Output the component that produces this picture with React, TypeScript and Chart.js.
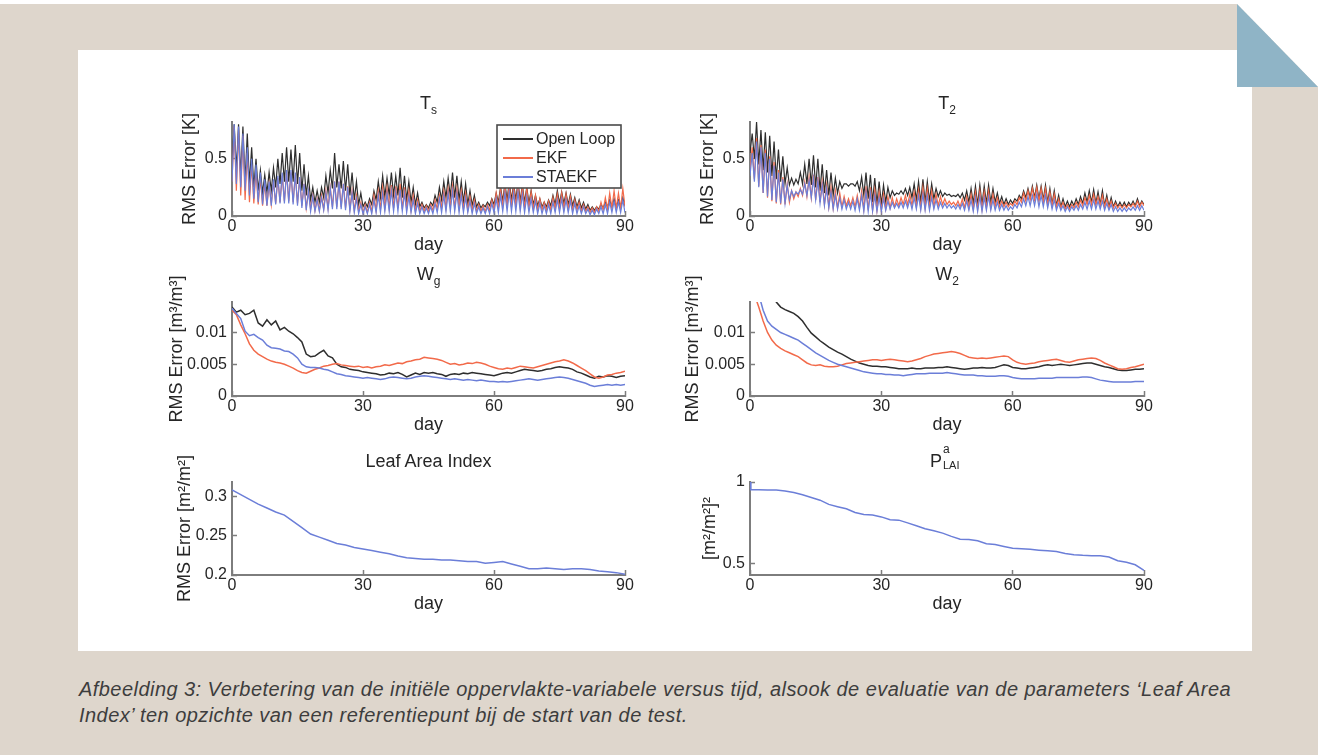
import React, { useEffect, useRef } from "react";
import { Chart, registerables } from "chart.js";

Chart.register(...registerables);

// ---------------- data ----------------
const seriesNames = ["Open Loop", "EKF", "STAEKF"];
const dayTicks = [0, 30, 60, 90];

const tsYTicks = [0, 0.5];
const wYTicks = [0, 0.005, 0.01];
const laiYTicks = [0.2, 0.25, 0.3];
const pYTicks = [0.5, 1];

// T_s: daily peak (midday) and trough values per series
const tsOlPeak = [
  0.80, 0.80, 0.78, 0.72, 0.60, 0.50, 0.40, 0.36, 0.38, 0.42,
  0.50, 0.55, 0.60, 0.58, 0.62, 0.55, 0.45, 0.35, 0.25, 0.22,
  0.25, 0.35, 0.40, 0.55, 0.45, 0.48, 0.45, 0.38, 0.30, 0.20,
  0.12, 0.15, 0.22, 0.30, 0.35, 0.33, 0.38, 0.35, 0.42, 0.35,
  0.30, 0.25, 0.20, 0.12, 0.10, 0.12, 0.18, 0.25, 0.30, 0.33,
  0.38, 0.35, 0.30, 0.28, 0.22, 0.18, 0.12, 0.10, 0.12, 0.15,
  0.20, 0.25, 0.28, 0.30, 0.28, 0.30, 0.27, 0.25, 0.22, 0.18,
  0.15, 0.12, 0.14, 0.18, 0.22, 0.21, 0.20, 0.19, 0.16, 0.14,
  0.12, 0.10, 0.08, 0.08, 0.10, 0.12, 0.14, 0.15, 0.14, 0.16,
];
const tsOlTrough = [
  0.45, 0.40, 0.35, 0.30, 0.28, 0.25, 0.22, 0.20, 0.20, 0.22,
  0.25, 0.28, 0.30, 0.30, 0.30, 0.28, 0.22, 0.18, 0.14, 0.12,
  0.12, 0.16, 0.20, 0.24, 0.25, 0.24, 0.22, 0.18, 0.14, 0.10,
  0.08, 0.08, 0.10, 0.14, 0.16, 0.17, 0.18, 0.18, 0.18, 0.16,
  0.14, 0.12, 0.10, 0.08, 0.07, 0.07, 0.09, 0.12, 0.14, 0.16,
  0.17, 0.16, 0.14, 0.12, 0.10, 0.09, 0.08, 0.07, 0.08, 0.09,
  0.10, 0.12, 0.13, 0.14, 0.14, 0.14, 0.13, 0.12, 0.11, 0.10,
  0.09, 0.08, 0.08, 0.09, 0.10, 0.11, 0.11, 0.10, 0.09, 0.08,
  0.07, 0.06, 0.05, 0.05, 0.06, 0.07, 0.08, 0.08, 0.08, 0.08,
  0.09,
];
const tsEkfPeak = [
  0.78, 0.75, 0.70, 0.55, 0.45, 0.40, 0.33, 0.28, 0.28, 0.30,
  0.33, 0.35, 0.38, 0.38, 0.36, 0.33, 0.28, 0.22, 0.18, 0.15,
  0.18, 0.22, 0.25, 0.30, 0.30, 0.28, 0.26, 0.22, 0.18, 0.12,
  0.10, 0.12, 0.18, 0.22, 0.25, 0.25, 0.27, 0.26, 0.28, 0.25,
  0.22, 0.18, 0.14, 0.10, 0.09, 0.10, 0.14, 0.18, 0.22, 0.24,
  0.26, 0.24, 0.22, 0.20, 0.17, 0.14, 0.10, 0.09, 0.10, 0.14,
  0.20, 0.24, 0.27, 0.28, 0.27, 0.28, 0.26, 0.24, 0.21, 0.18,
  0.15, 0.12, 0.13, 0.16, 0.19, 0.20, 0.19, 0.17, 0.14, 0.12,
  0.10, 0.08, 0.07, 0.08, 0.12, 0.16, 0.20, 0.22, 0.20, 0.24,
];
const tsEkfTrough = [
  0.30, 0.22, 0.18, 0.14, 0.12, 0.11, 0.10, 0.09, 0.09, 0.10,
  0.11, 0.12, 0.13, 0.13, 0.12, 0.11, 0.09, 0.07, 0.06, 0.05,
  0.05, 0.06, 0.07, 0.08, 0.08, 0.08, 0.07, 0.06, 0.05, 0.04,
  0.03, 0.03, 0.04, 0.05, 0.06, 0.07, 0.07, 0.07, 0.07, 0.06,
  0.06, 0.05, 0.04, 0.04, 0.04, 0.04, 0.05, 0.06, 0.07, 0.07,
  0.08, 0.07, 0.07, 0.06, 0.05, 0.05, 0.04, 0.04, 0.04, 0.05,
  0.06, 0.07, 0.08, 0.08, 0.08, 0.08, 0.08, 0.07, 0.07, 0.06,
  0.05, 0.05, 0.05, 0.05, 0.06, 0.06, 0.06, 0.06, 0.05, 0.05,
  0.04, 0.04, 0.03, 0.03, 0.04, 0.05, 0.06, 0.07, 0.07, 0.07,
  0.08,
];
const tsStaPeak = [
  0.80, 0.78, 0.72, 0.60, 0.50, 0.45, 0.38, 0.32, 0.30, 0.32,
  0.35, 0.38, 0.40, 0.40, 0.38, 0.34, 0.28, 0.22, 0.17, 0.14,
  0.16, 0.20, 0.24, 0.30, 0.30, 0.28, 0.25, 0.20, 0.15, 0.10,
  0.08, 0.10, 0.14, 0.18, 0.20, 0.20, 0.22, 0.21, 0.23, 0.20,
  0.17, 0.14, 0.11, 0.08, 0.07, 0.08, 0.11, 0.15, 0.18, 0.20,
  0.22, 0.20, 0.18, 0.16, 0.13, 0.11, 0.08, 0.07, 0.08, 0.11,
  0.15, 0.18, 0.20, 0.21, 0.20, 0.21, 0.19, 0.17, 0.15, 0.13,
  0.11, 0.09, 0.10, 0.12, 0.14, 0.15, 0.14, 0.13, 0.11, 0.09,
  0.08, 0.06, 0.05, 0.06, 0.08, 0.10, 0.12, 0.13, 0.12, 0.14,
];
const tsStaTrough = [
  0.30, 0.28, 0.25, 0.22, 0.18, 0.15, 0.12, 0.10, 0.09, 0.09,
  0.10, 0.11, 0.11, 0.11, 0.10, 0.09, 0.07, 0.05, 0.04, 0.04,
  0.04, 0.05, 0.05, 0.06, 0.06, 0.06, 0.05, 0.04, 0.03, 0.02,
  0.02, 0.02, 0.02, 0.03, 0.03, 0.04, 0.04, 0.04, 0.04, 0.04,
  0.03, 0.03, 0.02, 0.02, 0.02, 0.02, 0.02, 0.03, 0.03, 0.04,
  0.04, 0.04, 0.03, 0.03, 0.03, 0.02, 0.02, 0.02, 0.02, 0.02,
  0.03, 0.03, 0.04, 0.04, 0.04, 0.04, 0.04, 0.03, 0.03, 0.03,
  0.02, 0.02, 0.02, 0.02, 0.03, 0.03, 0.03, 0.03, 0.02, 0.02,
  0.02, 0.02, 0.01, 0.01, 0.02, 0.02, 0.02, 0.03, 0.03, 0.03,
  0.03,
];

// T_2
const t2OlPeak = [
  0.72, 0.82, 0.75, 0.73, 0.70, 0.65, 0.58, 0.52, 0.42, 0.33,
  0.32, 0.38, 0.45, 0.50, 0.53, 0.50, 0.45, 0.40, 0.38, 0.33,
  0.30, 0.28, 0.26, 0.28, 0.30, 0.34, 0.38, 0.36, 0.33, 0.30,
  0.27, 0.25, 0.22, 0.20, 0.22, 0.24, 0.25, 0.28, 0.30, 0.32,
  0.30, 0.28, 0.24, 0.22, 0.20, 0.19, 0.18, 0.19, 0.20, 0.22,
  0.24, 0.26, 0.27, 0.26, 0.27, 0.24, 0.20, 0.17, 0.15, 0.14,
  0.15, 0.18, 0.22, 0.24, 0.26, 0.27, 0.26, 0.27, 0.24, 0.22,
  0.18, 0.15, 0.13, 0.13, 0.15, 0.17, 0.20, 0.22, 0.23, 0.21,
  0.22, 0.18, 0.16, 0.13, 0.12, 0.12, 0.12, 0.13, 0.15, 0.13,
];
const t2OlTrough = [
  0.55, 0.50, 0.45, 0.40, 0.38, 0.35, 0.32, 0.30, 0.28, 0.27,
  0.27, 0.28, 0.28, 0.28, 0.27, 0.25, 0.22, 0.20, 0.18, 0.18,
  0.20, 0.24, 0.28, 0.28, 0.26, 0.22, 0.18, 0.15, 0.12, 0.10,
  0.10, 0.12, 0.16, 0.18, 0.19, 0.19, 0.18, 0.16, 0.14, 0.12,
  0.12, 0.13, 0.15, 0.17, 0.17, 0.18, 0.17, 0.17, 0.16, 0.14,
  0.12, 0.11, 0.10, 0.10, 0.11, 0.12, 0.12, 0.11, 0.10, 0.10,
  0.11, 0.13, 0.15, 0.16, 0.16, 0.16, 0.15, 0.14, 0.12, 0.10,
  0.09, 0.08, 0.08, 0.08, 0.09, 0.10, 0.11, 0.12, 0.12, 0.11,
  0.10, 0.09, 0.08, 0.08, 0.08, 0.08, 0.08, 0.09, 0.09, 0.09,
  0.10,
];
const t2EkfPeak = [
  0.60, 0.68, 0.62, 0.58, 0.52, 0.47, 0.40, 0.34, 0.28, 0.22,
  0.21, 0.24, 0.30, 0.34, 0.36, 0.34, 0.30, 0.27, 0.25, 0.22,
  0.20, 0.17, 0.15, 0.16, 0.18, 0.22, 0.26, 0.25, 0.23, 0.21,
  0.19, 0.17, 0.16, 0.15, 0.16, 0.18, 0.19, 0.21, 0.23, 0.25,
  0.24, 0.22, 0.19, 0.17, 0.15, 0.13, 0.12, 0.13, 0.15, 0.17,
  0.19, 0.21, 0.22, 0.21, 0.22, 0.19, 0.16, 0.13, 0.12, 0.11,
  0.13, 0.16, 0.20, 0.22, 0.24, 0.25, 0.24, 0.24, 0.21, 0.19,
  0.15, 0.12, 0.10, 0.10, 0.12, 0.14, 0.16, 0.18, 0.19, 0.17,
  0.18, 0.15, 0.13, 0.11, 0.10, 0.10, 0.10, 0.11, 0.13, 0.12,
];
const t2EkfTrough = [
  0.40, 0.32, 0.26, 0.20, 0.16, 0.13, 0.11, 0.10, 0.10, 0.12,
  0.15, 0.17, 0.18, 0.17, 0.16, 0.14, 0.12, 0.10, 0.08, 0.07,
  0.07, 0.08, 0.09, 0.09, 0.08, 0.07, 0.06, 0.05, 0.05, 0.05,
  0.05, 0.06, 0.07, 0.08, 0.09, 0.10, 0.10, 0.09, 0.08, 0.07,
  0.07, 0.07, 0.08, 0.09, 0.10, 0.10, 0.10, 0.09, 0.08, 0.07,
  0.07, 0.06, 0.06, 0.06, 0.07, 0.07, 0.08, 0.08, 0.08, 0.08,
  0.09, 0.10, 0.12, 0.13, 0.14, 0.14, 0.13, 0.12, 0.10, 0.09,
  0.08, 0.07, 0.06, 0.06, 0.07, 0.08, 0.09, 0.10, 0.10, 0.10,
  0.09, 0.08, 0.07, 0.07, 0.07, 0.07, 0.07, 0.08, 0.08, 0.08,
  0.09,
];
const t2StaPeak = [
  0.55, 0.65, 0.60, 0.55, 0.50, 0.44, 0.38, 0.32, 0.27, 0.22,
  0.21, 0.23, 0.28, 0.31, 0.33, 0.31, 0.27, 0.24, 0.21, 0.18,
  0.16, 0.14, 0.12, 0.13, 0.15, 0.18, 0.21, 0.20, 0.18, 0.16,
  0.15, 0.13, 0.12, 0.11, 0.12, 0.13, 0.14, 0.16, 0.18, 0.19,
  0.18, 0.16, 0.14, 0.12, 0.11, 0.10, 0.09, 0.10, 0.11, 0.13,
  0.14, 0.16, 0.17, 0.16, 0.17, 0.14, 0.12, 0.10, 0.09, 0.08,
  0.10, 0.12, 0.15, 0.17, 0.18, 0.19, 0.18, 0.18, 0.16, 0.14,
  0.11, 0.09, 0.08, 0.08, 0.09, 0.10, 0.12, 0.13, 0.14, 0.13,
  0.13, 0.11, 0.10, 0.08, 0.07, 0.07, 0.07, 0.08, 0.09, 0.09,
];
const t2StaTrough = [
  0.35, 0.30, 0.25, 0.20, 0.17, 0.14, 0.12, 0.11, 0.11, 0.14,
  0.17, 0.19, 0.19, 0.18, 0.16, 0.14, 0.11, 0.09, 0.07, 0.06,
  0.06, 0.06, 0.06, 0.06, 0.05, 0.05, 0.04, 0.04, 0.04, 0.04,
  0.04, 0.05, 0.06, 0.07, 0.07, 0.07, 0.07, 0.06, 0.06, 0.05,
  0.05, 0.05, 0.06, 0.06, 0.07, 0.07, 0.07, 0.06, 0.06, 0.05,
  0.05, 0.04, 0.04, 0.04, 0.05, 0.05, 0.05, 0.05, 0.05, 0.05,
  0.06, 0.07, 0.08, 0.09, 0.09, 0.09, 0.08, 0.08, 0.07, 0.06,
  0.05, 0.05, 0.04, 0.04, 0.05, 0.05, 0.06, 0.06, 0.06, 0.06,
  0.06, 0.05, 0.05, 0.04, 0.04, 0.04, 0.04, 0.05, 0.05, 0.05,
  0.05,
];

// W_g (daily, day 0..90)
const wgOl = [
  0.0140, 0.0132, 0.0135, 0.0128, 0.0130, 0.0135, 0.0115, 0.0110, 0.0120, 0.0112,
  0.0118, 0.0104, 0.0108, 0.0102, 0.0098, 0.0092, 0.0085, 0.0066, 0.0062, 0.0063,
  0.0068, 0.0072, 0.0063, 0.0060, 0.0050, 0.0046, 0.0045, 0.0042, 0.0041, 0.0040,
  0.0038, 0.0037, 0.0036, 0.0035, 0.0033, 0.0034, 0.0036, 0.0035, 0.0037, 0.0034,
  0.0030, 0.0033, 0.0036, 0.0034, 0.0037, 0.0036, 0.0037, 0.0035, 0.0034, 0.0031,
  0.0034, 0.0035, 0.0034, 0.0036, 0.0035, 0.0037, 0.0036, 0.0035, 0.0034, 0.0033,
  0.0032, 0.0034, 0.0036, 0.0037, 0.0036, 0.0038, 0.0040, 0.0042, 0.0041, 0.0040,
  0.0039, 0.0040, 0.0042, 0.0043, 0.0045, 0.0046, 0.0045, 0.0044, 0.0042, 0.0038,
  0.0036, 0.0033, 0.0030, 0.0028, 0.0031, 0.0030, 0.0032, 0.0031, 0.0029, 0.0031,
  0.0032,
];
const wgEkf = [
  0.0135, 0.0128, 0.0112, 0.0098, 0.0082, 0.0072, 0.0066, 0.0062, 0.0058, 0.0055,
  0.0053, 0.0052, 0.0050, 0.0047, 0.0044, 0.0040, 0.0037, 0.0036, 0.0039, 0.0042,
  0.0044, 0.0047, 0.0048, 0.0050, 0.0051, 0.0049, 0.0048, 0.0047, 0.0046, 0.0047,
  0.0045, 0.0046, 0.0044, 0.0046, 0.0047, 0.0049, 0.0048, 0.0050, 0.0052, 0.0051,
  0.0054, 0.0055, 0.0057, 0.0058, 0.0061, 0.0060, 0.0059, 0.0058, 0.0056, 0.0053,
  0.0050, 0.0051, 0.0049, 0.0050, 0.0052, 0.0051, 0.0053, 0.0052, 0.0050, 0.0047,
  0.0045, 0.0043, 0.0042, 0.0044, 0.0043, 0.0045, 0.0047, 0.0046, 0.0045, 0.0044,
  0.0046, 0.0048, 0.0050, 0.0052, 0.0054, 0.0055, 0.0057, 0.0055, 0.0052, 0.0048,
  0.0044, 0.0040, 0.0035, 0.0030, 0.0028, 0.0030, 0.0033, 0.0034, 0.0036, 0.0037,
  0.0039,
];
const wgSta = [
  0.0138, 0.0130, 0.0122, 0.0102, 0.0095, 0.0097, 0.0092, 0.0088, 0.0080, 0.0076,
  0.0075, 0.0074, 0.0071, 0.0070, 0.0066, 0.0060, 0.0050, 0.0046, 0.0045, 0.0045,
  0.0044, 0.0042, 0.0041, 0.0038, 0.0035, 0.0034, 0.0032, 0.0031, 0.0030, 0.0029,
  0.0028, 0.0029, 0.0028, 0.0027, 0.0026, 0.0027, 0.0029, 0.0030, 0.0029, 0.0028,
  0.0027, 0.0028, 0.0030, 0.0031, 0.0032, 0.0031, 0.0030, 0.0029, 0.0028, 0.0027,
  0.0026, 0.0027, 0.0026, 0.0025, 0.0026, 0.0025, 0.0024, 0.0025, 0.0024, 0.0023,
  0.0023, 0.0022, 0.0023, 0.0022, 0.0023, 0.0024, 0.0025, 0.0026, 0.0027, 0.0026,
  0.0025, 0.0026, 0.0027, 0.0028, 0.0029, 0.0030, 0.0029, 0.0028, 0.0026, 0.0024,
  0.0022, 0.0020, 0.0017, 0.0015, 0.0016, 0.0017, 0.0018, 0.0017, 0.0018, 0.0017,
  0.0018,
];

// W_2 (daily, day 0..90)
const w2Ol = [
  0.0300, 0.0270, 0.0240, 0.0210, 0.0190, 0.0165, 0.0148, 0.0140, 0.0136, 0.0133,
  0.0130, 0.0125, 0.0118, 0.0108, 0.0099, 0.0093, 0.0087, 0.0082, 0.0077, 0.0073,
  0.0069, 0.0066, 0.0062, 0.0058, 0.0055, 0.0052, 0.0050, 0.0048, 0.0047, 0.0047,
  0.0046, 0.0046, 0.0045, 0.0044, 0.0043, 0.0043, 0.0043, 0.0044, 0.0043, 0.0043,
  0.0044, 0.0044, 0.0044, 0.0045, 0.0045, 0.0046, 0.0045, 0.0044, 0.0043, 0.0042,
  0.0043, 0.0044, 0.0044, 0.0045, 0.0044, 0.0044, 0.0045, 0.0047, 0.0049, 0.0048,
  0.0045, 0.0044, 0.0043, 0.0043, 0.0044, 0.0045, 0.0046, 0.0048, 0.0049, 0.0048,
  0.0049, 0.0050, 0.0049, 0.0048, 0.0049, 0.0050, 0.0051, 0.0052, 0.0052, 0.0050,
  0.0048, 0.0046, 0.0045, 0.0043, 0.0041, 0.0040, 0.0040, 0.0041, 0.0042, 0.0042,
  0.0043,
];
const w2Ekf = [
  0.0200, 0.0160, 0.0140, 0.0118, 0.0100, 0.0088, 0.0080, 0.0075, 0.0071, 0.0068,
  0.0065, 0.0062, 0.0057, 0.0052, 0.0049, 0.0048, 0.0049, 0.0047, 0.0046, 0.0046,
  0.0047, 0.0049, 0.0051, 0.0052, 0.0053, 0.0054, 0.0055, 0.0056, 0.0057, 0.0057,
  0.0056, 0.0057, 0.0058, 0.0057, 0.0056, 0.0055, 0.0054, 0.0055, 0.0057, 0.0059,
  0.0062, 0.0064, 0.0066, 0.0067, 0.0068, 0.0069, 0.0070, 0.0069, 0.0067, 0.0064,
  0.0061, 0.0060, 0.0059, 0.0060, 0.0059, 0.0060, 0.0061, 0.0062, 0.0063, 0.0062,
  0.0057, 0.0053, 0.0051, 0.0050, 0.0051, 0.0052, 0.0054, 0.0055, 0.0056, 0.0057,
  0.0058, 0.0056, 0.0054, 0.0053, 0.0055, 0.0057, 0.0058, 0.0059, 0.0060, 0.0059,
  0.0056, 0.0052, 0.0049, 0.0046, 0.0043, 0.0042, 0.0043, 0.0045, 0.0046, 0.0048,
  0.0050,
];
const w2Sta = [
  0.0250, 0.0200, 0.0160, 0.0135, 0.0118, 0.0110, 0.0105, 0.0100, 0.0097, 0.0094,
  0.0091, 0.0088, 0.0083, 0.0078, 0.0073, 0.0068, 0.0064, 0.0060, 0.0056, 0.0053,
  0.0050, 0.0048, 0.0046, 0.0044, 0.0042, 0.0040, 0.0038, 0.0037, 0.0036, 0.0035,
  0.0035, 0.0034, 0.0034, 0.0033, 0.0033, 0.0032, 0.0033, 0.0034, 0.0035, 0.0035,
  0.0035, 0.0036, 0.0036, 0.0036, 0.0036, 0.0037, 0.0036, 0.0035, 0.0034, 0.0033,
  0.0033, 0.0033, 0.0032, 0.0032, 0.0031, 0.0031, 0.0031, 0.0032, 0.0032, 0.0031,
  0.0029, 0.0028, 0.0027, 0.0027, 0.0027, 0.0027, 0.0028, 0.0028, 0.0028, 0.0028,
  0.0029, 0.0029, 0.0029, 0.0029, 0.0029, 0.0029, 0.0030, 0.0030, 0.0029, 0.0027,
  0.0025, 0.0024, 0.0023, 0.0022, 0.0022, 0.0022, 0.0022, 0.0022, 0.0023, 0.0023,
  0.0023,
];

// Leaf Area Index (every 2 days)
const laiDays = [
  0, 2, 4, 6, 8, 10, 12, 14, 16, 18, 20, 22, 24, 26, 28, 30, 32, 34, 36, 38, 40, 42, 44,
  46, 48, 50, 52, 54, 56, 58, 60, 62, 64, 66, 68, 70, 72, 74, 76, 78, 80, 82, 84, 86, 88, 90,
];
const laiSta = [
  0.308, 0.302, 0.296, 0.290, 0.285, 0.280, 0.276, 0.268, 0.260, 0.252, 0.248, 0.244,
  0.240, 0.238, 0.235, 0.233, 0.231, 0.229, 0.227, 0.224, 0.222, 0.221, 0.220, 0.220,
  0.219, 0.219, 0.218, 0.217, 0.217, 0.215, 0.216, 0.217, 0.214, 0.211, 0.208, 0.208,
  0.209, 0.208, 0.207, 0.208, 0.208, 0.207, 0.205, 0.204, 0.203, 0.201,
];

// P^a_LAI
const pDays = [
  0, 0.2, 2, 4, 6, 8, 10, 12, 14, 16, 18, 20, 22, 24, 26, 28, 30, 32, 34, 36, 38, 40, 42, 44,
  46, 48, 50, 52, 54, 56, 58, 60, 62, 64, 66, 68, 70, 72, 74, 76, 78, 80, 82, 84, 86, 88, 90,
];
const pSta = [
  1.0, 0.952, 0.952, 0.951, 0.950, 0.945, 0.935, 0.922, 0.905, 0.888, 0.862, 0.848,
  0.835, 0.812, 0.800, 0.797, 0.785, 0.768, 0.765, 0.748, 0.730, 0.712, 0.700, 0.685,
  0.665, 0.648, 0.646, 0.638, 0.620, 0.615, 0.603, 0.592, 0.588, 0.585, 0.580, 0.576,
  0.572, 0.560, 0.552, 0.548, 0.546, 0.545, 0.538, 0.515, 0.505, 0.490, 0.455,
];

// ---------------- styling ----------------
const FONT = "'Liberation Sans', Arial, Helvetica, sans-serif";
const TEXT = "#262626";
const AXIS = "#7d7d7d";
const C_OL = "#2e2e2e";
const C_EKF = "#f26a4a";
const C_STA = "#6b7ed8";
const seriesColors = [C_OL, C_EKF, C_STA];

const TICK_SIZE = 16;
const LABEL_SIZE = 18;

type Pt = { x: number; y: number };

function spikes(troughs: number[], peaks: number[]): Pt[] {
  const pts: Pt[] = [];
  for (let d = 0; d < troughs.length; d++) {
    pts.push({ x: d, y: troughs[d] });
    if (d < peaks.length) pts.push({ x: d + 0.5, y: peaks[d] });
  }
  return pts;
}
function daily(v: number[]): Pt[] {
  return v.map((y, i) => ({ x: i, y }));
}
function paired(days: number[], v: number[]): Pt[] {
  return days.map((x, i) => ({ x, y: v[i] }));
}

const insetLegend = {
  id: "insetLegend",
  afterDatasetsDraw(chart: any) {
    const opts = chart.options.plugins.insetLegend;
    if (!opts || !opts.display) return;
    const { ctx, chartArea } = chart;
    const w = 124;
    const h = 63;
    const x = chartArea.right - 4 - w;
    const y = chartArea.top + 3;
    ctx.save();
    ctx.fillStyle = "#ffffff";
    ctx.fillRect(x, y, w, h);
    ctx.strokeStyle = "#4a4a4a";
    ctx.lineWidth = 1.6;
    ctx.strokeRect(x, y, w, h);
    ctx.font = `16px ${FONT}`;
    ctx.textBaseline = "middle";
    ctx.textAlign = "left";
    chart.data.datasets.forEach((ds: any, i: number) => {
      const cy = y + 14 + i * 19;
      ctx.strokeStyle = ds.borderColor;
      ctx.lineWidth = 2;
      ctx.beginPath();
      ctx.moveTo(x + 6, cy);
      ctx.lineTo(x + 36, cy);
      ctx.stroke();
      ctx.fillStyle = TEXT;
      ctx.fillText(ds.label, x + 39, cy + 1);
    });
    ctx.restore();
  },
};

type Series = { label: string; data: Pt[]; color: string };
type Spec = {
  key: string;
  L: number; T: number; R: number; B: number;
  yMin: number; yMax: number; yTicks: number[];
  yTitle: string; yOff: number;
  lw: number; legend?: boolean;
  series: Series[];
  title: React.ReactNode;
};

const sub = (t: string) => (
  <sub style={{ fontSize: 12, verticalAlign: -5, lineHeight: 0 }}>{t}</sub>
);

const specs: Spec[] = [
  {
    key: "ts", L: 232, T: 122, R: 625, B: 216, yMin: 0, yMax: 0.82, yTicks: tsYTicks,
    yTitle: "RMS Error [K]", yOff: 42, lw: 1.2, legend: true,
    series: [
      { label: seriesNames[0], data: spikes(tsOlTrough, tsOlPeak), color: seriesColors[0] },
      { label: seriesNames[1], data: spikes(tsEkfTrough, tsEkfPeak), color: seriesColors[1] },
      { label: seriesNames[2], data: spikes(tsStaTrough, tsStaPeak), color: seriesColors[2] },
    ],
    title: <>T{sub("s")}</>,
  },
  {
    key: "t2", L: 750, T: 122, R: 1144, B: 216, yMin: 0, yMax: 0.82, yTicks: tsYTicks,
    yTitle: "RMS Error [K]", yOff: 42, lw: 1.2,
    series: [
      { label: seriesNames[0], data: spikes(t2OlTrough, t2OlPeak), color: seriesColors[0] },
      { label: seriesNames[1], data: spikes(t2EkfTrough, t2EkfPeak), color: seriesColors[1] },
      { label: seriesNames[2], data: spikes(t2StaTrough, t2StaPeak), color: seriesColors[2] },
    ],
    title: <>T{sub("2")}</>,
  },
  {
    key: "wg", L: 232, T: 302, R: 625, B: 396, yMin: 0, yMax: 0.0148, yTicks: wYTicks,
    yTitle: "RMS Error [m³/m³]", yOff: 55, lw: 1.5,
    series: [
      { label: seriesNames[0], data: daily(wgOl), color: seriesColors[0] },
      { label: seriesNames[1], data: daily(wgEkf), color: seriesColors[1] },
      { label: seriesNames[2], data: daily(wgSta), color: seriesColors[2] },
    ],
    title: <>W{sub("g")}</>,
  },
  {
    key: "w2", L: 750, T: 302, R: 1144, B: 396, yMin: 0, yMax: 0.0148, yTicks: wYTicks,
    yTitle: "RMS Error [m³/m³]", yOff: 57, lw: 1.5,
    series: [
      { label: seriesNames[0], data: daily(w2Ol), color: seriesColors[0] },
      { label: seriesNames[1], data: daily(w2Ekf), color: seriesColors[1] },
      { label: seriesNames[2], data: daily(w2Sta), color: seriesColors[2] },
    ],
    title: <>W{sub("2")}</>,
  },
  {
    key: "lai", L: 232, T: 482, R: 625, B: 575, yMin: 0.2, yMax: 0.318, yTicks: laiYTicks,
    yTitle: "RMS Error [m²/m²]", yOff: 47, lw: 1.5,
    series: [{ label: seriesNames[2], data: paired(laiDays, laiSta), color: seriesColors[2] }],
    title: <>Leaf Area Index</>,
  },
  {
    key: "p", L: 750, T: 482, R: 1144, B: 575, yMin: 0.427, yMax: 1.0, yTicks: pYTicks,
    yTitle: "[m²/m²]²", yOff: 40, lw: 1.5,
    series: [{ label: seriesNames[2], data: paired(pDays, pSta), color: seriesColors[2] }],
    title: (
      <>
        P
        <span style={{ position: "relative", display: "inline-block", width: 22, height: 0 }}>
          <span style={{ position: "absolute", left: 1, bottom: 12, fontSize: 12, lineHeight: "12px" }}>a</span>
          <span style={{ position: "absolute", left: 1, top: -7, fontSize: 11, lineHeight: "11px" }}>LAI</span>
        </span>
      </>
    ),
  },
];

const titleTops: Record<string, number> = { ts: 92, t2: 92, wg: 263, w2: 263, lai: 450, p: 450 };

function buildConfig(s: Spec): any {
  const tickFont = { family: FONT, size: TICK_SIZE };
  const titleFont = { family: FONT, size: LABEL_SIZE };
  const lh = LABEL_SIZE * 1.2;
  return {
    type: "line",
    data: {
      datasets: s.series.map((ser, i) => ({
        label: ser.label,
        data: ser.data,
        borderColor: ser.color,
        backgroundColor: ser.color,
        borderWidth: s.lw,
        pointRadius: 0,
        tension: 0,
        fill: false,
        order: s.series.length - i,
      })),
    },
    options: {
      responsive: false,
      animation: false,
      events: [],
      layout: { padding: { left: 0, top: 40, right: 20, bottom: 0 } },
      plugins: {
        legend: { display: false },
        tooltip: { enabled: false },
        title: { display: false },
        insetLegend: { display: !!s.legend },
      },
      scales: {
        x: {
          type: "linear",
          min: 0,
          max: 90,
          afterBuildTicks: (sc: any) => {
            sc.ticks = dayTicks.map((v) => ({ value: v }));
          },
          afterFit: (sc: any) => {
            sc.height = 45;
          },
          grid: { drawOnChartArea: false, drawTicks: true, tickLength: -5, tickColor: AXIS, tickWidth: 1.5 },
          border: { display: true, color: AXIS, width: 2 },
          ticks: {
            padding: 6,
            color: TEXT,
            font: tickFont,
            maxRotation: 0,
            autoSkip: false,
            callback: (v: any) => String(v),
          },
          title: {
            display: true,
            text: "day",
            color: TEXT,
            font: titleFont,
            padding: { top: 0, bottom: 5 },
          },
        },
        y: {
          type: "linear",
          min: s.yMin,
          max: s.yMax,
          afterBuildTicks: (sc: any) => {
            sc.ticks = s.yTicks.map((v) => ({ value: v }));
          },
          afterFit: (sc: any) => {
            sc.width = 70;
          },
          grid: { drawOnChartArea: false, drawTicks: true, tickLength: -5, tickColor: AXIS, tickWidth: 1.5 },
          border: { display: true, color: AXIS, width: 2 },
          ticks: {
            padding: 10,
            color: TEXT,
            font: tickFont,
            autoSkip: false,
            callback: (v: any) => String(v),
          },
          title: {
            display: true,
            text: s.yTitle,
            color: TEXT,
            font: titleFont,
            padding: { top: Math.max(0, 70 - s.yOff - lh / 2), bottom: 0 },
          },
        },
      },
    },
    plugins: [insetLegend],
  };
}

function Panel({ spec }: { spec: Spec }) {
  const ref = useRef<HTMLCanvasElement>(null);
  const w = spec.R - spec.L + 90;
  const h = spec.B - spec.T + 85;
  useEffect(() => {
    if (!ref.current) return;
    const chart = new Chart(ref.current, buildConfig(spec));
    return () => chart.destroy();
  }, []);
  const cx = (spec.L + spec.R) / 2;
  return (
    <>
      <canvas
        ref={ref}
        width={w}
        height={h}
        style={{ position: "absolute", left: spec.L - 70, top: spec.T - 40, width: w, height: h }}
      />
      <div
        style={{
          position: "absolute",
          left: cx - 150,
          width: 300,
          top: titleTops[spec.key],
          textAlign: "center",
          fontFamily: FONT,
          fontSize: LABEL_SIZE,
          lineHeight: "22px",
          color: TEXT,
          whiteSpace: "nowrap",
        }}
      >
        {spec.title}
      </div>
    </>
  );
}

export default function App() {
  return (
    <div
      style={{
        position: "fixed",
        left: 0,
        top: 0,
        width: 1329,
        height: 755,
        background: "#ffffff",
        overflow: "hidden",
      }}
    >
      <svg width={1329} height={755} style={{ position: "absolute", left: 0, top: 0 }}>
        <polygon points="0,4 1237,4 1318,87 1318,755 0,755" fill="#ded6cc" />
        <rect x={78} y={50} width={1174} height={601} fill="#ffffff" />
        <polygon points="1237,4 1237,87 1318,87" fill="#8fb4c6" />
      </svg>
      {specs.map((s) => (
        <Panel key={s.key} spec={s} />
      ))}
      <div
        style={{
          position: "absolute",
          left: 79,
          top: 676,
          fontFamily: FONT,
          fontStyle: "italic",
          fontSize: 20,
          letterSpacing: "0.45px",
          lineHeight: "26px",
          color: "#3d3d3d",
          whiteSpace: "nowrap",
        }}
      >
        <div>
          Afbeelding 3: Verbetering van de initiële oppervlakte-variabele versus tijd, alsook de evaluatie van de parameters ‘Leaf Area
        </div>
        <div>Index’ ten opzichte van een referentiepunt bij de start van de test.</div>
      </div>
    </div>
  );
}
